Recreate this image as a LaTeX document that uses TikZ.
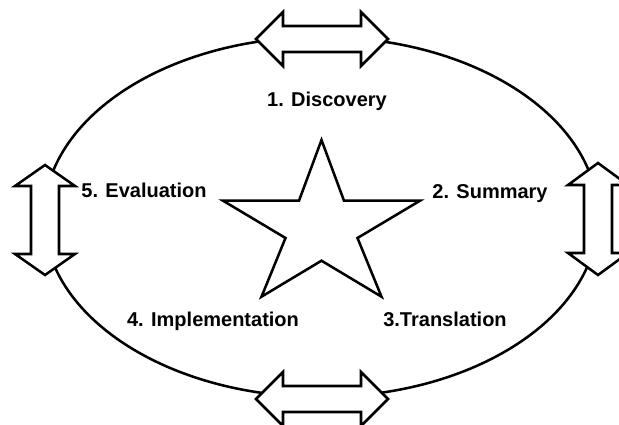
\documentclass[tikz,border=0pt]{standalone}
\usepackage{fontspec}
\setmainfont{Liberation Sans}

\begin{document}
\begin{tikzpicture}[x=0.75pt, y=-0.75pt,
  outline/.style={line width=1.9pt, line join=miter, fill=white},
  stage/.style={font=\fontsize{15}{18}\selectfont\bfseries, anchor=base, inner sep=0pt}]
\useasboundingbox (0,0) rectangle (619,425);

% the cycle
\draw[line width=1.9pt] (321,217) ellipse [x radius=277, y radius=180];

% horizontal double arrows, top and bottom
\begin{scope}[shift={(322,39)}]
\draw[outline] (-66,0) -- (-39,-27) -- (-39,-13) -- (39,-13) -- (39,-27) -- (66,0)
  -- (39,27) -- (39,13) -- (-39,13) -- (-39,27) -- cycle;
\end{scope}

\begin{scope}[shift={(322,399)}]
\draw[outline] (-66,0) -- (-39,-27) -- (-39,-13) -- (39,-13) -- (39,-27) -- (66,0)
  -- (39,27) -- (39,13) -- (-39,13) -- (-39,27) -- cycle;
\end{scope}

% vertical double arrows, left and right
\begin{scope}[shift={(45,220)}]
\draw[outline] (0,-55) -- (30,-34) -- (14,-34) -- (14,34) -- (30,34) -- (0,55)
  -- (-30,34) -- (-14,34) -- (-14,-34) -- (-30,-34) -- cycle;
\end{scope}

\begin{scope}[shift={(598,219)}]
\draw[outline] (0,-56) -- (30,-34) -- (14,-34) -- (14,34) -- (30,34) -- (0,56)
  -- (-30,34) -- (-14,34) -- (-14,-34) -- (-30,-34) -- cycle;
\end{scope}

% star in the middle
\draw[outline] (321.5,140) -- (344,200.7) -- (420,200.7) -- (357.5,238) -- (381.5,296.7)
  -- (321.5,260.7) -- (261.5,296.7) -- (285.5,238) -- (223,200.7) -- (299,200.7) -- cycle;

% the five stages
\node[stage] (discovery) at (327,106) {1. Discovery};
\node[stage] (summary) at (490,198) {2. Summary};
\node[stage] (translation) at (445,326) {3.Translation};
\node[stage] (implementation) at (213,326) {4. Implementation};
\node[stage] (evaluation) at (144,197) {5. Evaluation};
\end{tikzpicture}
\end{document}
